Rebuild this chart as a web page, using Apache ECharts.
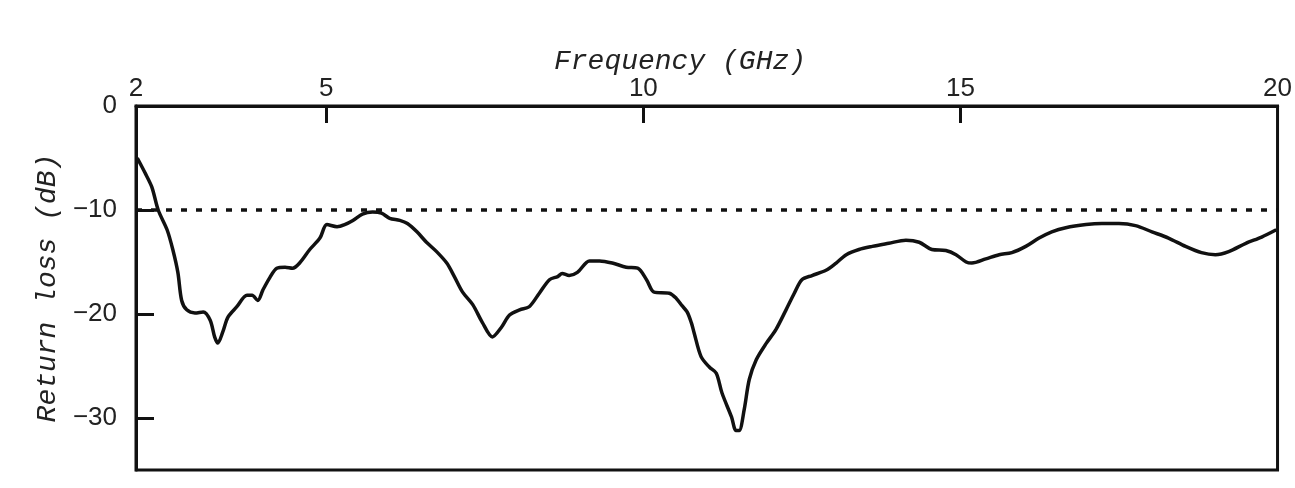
<!DOCTYPE html>
<html>
<head>
<meta charset="utf-8">
<script src="https://cdn.jsdelivr.net/npm/echarts@6/dist/echarts.min.js"></script>
<style>
html,body{margin:0;padding:0;background:#fff;}
#chart{width:1295px;height:488px;}
</style>
</head>
<body>
<div id="chart"></div>
<script>
var freq = [2.02,2.14,2.25,2.35,2.49,2.58,2.66,2.72,2.80,2.93,3.06,3.17,3.24,3.29,3.37,3.45,3.59,3.75,3.83,3.92,4.00,4.11,4.22,4.35,4.47,4.58,4.74,4.90,5.01,5.17,5.29,5.42,5.57,5.73,5.87,6.00,6.16,6.28,6.43,6.58,6.74,6.90,7.02,7.15,7.31,7.46,7.62,7.76,7.89,8.05,8.20,8.36,8.52,8.65,8.72,8.83,8.96,9.15,9.31,9.51,9.73,9.91,10.05,10.17,10.41,10.52,10.61,10.69,10.76,10.80,10.91,11.04,11.15,11.24,11.39,11.46,11.51,11.59,11.67,11.78,11.94,12.09,12.25,12.38,12.50,12.66,12.88,13.04,13.20,13.40,13.61,13.87,14.14,14.35,14.55,14.77,14.93,15.09,15.18,15.40,15.61,15.81,16.03,16.24,16.44,16.66,16.98,17.23,17.50,17.76,18.02,18.28,18.55,18.80,19.02,19.23,19.50,19.75,19.98];
var returnLoss = [-5.0,-6.4,-7.8,-10.0,-11.9,-13.8,-16.0,-18.7,-19.6,-19.9,-19.8,-20.6,-22.2,-22.8,-21.7,-20.3,-19.3,-18.2,-18.2,-18.7,-17.7,-16.5,-15.6,-15.5,-15.6,-15.1,-13.8,-12.7,-11.4,-11.6,-11.4,-11.0,-10.4,-10.2,-10.3,-10.8,-11.0,-11.3,-12.1,-13.1,-14.0,-15.1,-16.4,-17.9,-19.1,-20.8,-22.2,-21.3,-20.1,-19.6,-19.3,-18.0,-16.7,-16.4,-16.1,-16.3,-16.0,-14.9,-14.9,-15.1,-15.5,-15.6,-16.7,-17.9,-18.0,-18.5,-19.2,-19.8,-20.9,-21.8,-24.1,-25.1,-25.7,-27.6,-29.9,-31.2,-31.2,-29.2,-26.3,-24.4,-22.8,-21.5,-19.6,-18.0,-16.7,-16.3,-15.8,-15.1,-14.3,-13.8,-13.5,-13.2,-12.9,-13.1,-13.8,-13.9,-14.3,-15.0,-15.1,-14.7,-14.3,-14.1,-13.5,-12.7,-12.1,-11.7,-11.4,-11.3,-11.3,-11.5,-12.1,-12.7,-13.5,-14.1,-14.3,-14.0,-13.2,-12.6,-11.9];
var thresholdFreq = [2, 20];
var thresholdLevel = [-10, -10];
var xTickLabels = [2, 5, 10, 15, 20];
var xTickMarks = [5, 10, 15];
var yTickLabels = [0, -10, -20, -30];
var yTickMarks = [-10, -20, -30];

var curve = freq.map(function(f, i){ return [f, returnLoss[i]]; });
var thresh = thresholdFreq.map(function(f, i){ return [f, thresholdLevel[i]]; });

var chart = echarts.init(document.getElementById('chart'), null, {renderer: 'canvas'});
chart.setOption({
  backgroundColor: '#ffffff',
  animation: false,
  title: {
    text: 'Frequency (GHz)',
    left: 549, top: 43,
    textStyle: {fontFamily: 'Liberation Mono', fontStyle: 'italic', fontWeight: 'normal', fontSize: 28, color: '#222'}
  },
  grid: {
    left: 136, right: 17, top: 106, bottom: 18,
    show: true, borderColor: '#111', borderWidth: 3, backgroundColor: 'transparent'
  },
  xAxis: {
    type: 'value', position: 'top', min: 2, max: 20,
    axisLine: {show: true, lineStyle: {color: '#111', width: 3}},
    axisTick: {show: true, inside: true, length: 17, customValues: xTickMarks, lineStyle: {color: '#111', width: 3}},
    axisLabel: {show: true, customValues: xTickLabels, margin: 4, fontFamily: 'Liberation Sans', fontSize: 26, color: '#222'},
    splitLine: {show: false}
  },
  yAxis: {
    type: 'value', min: -35, max: 0,
    name: 'Return loss (dB)', nameLocation: 'middle', nameGap: 74, nameRotate: 90,
    nameTextStyle: {fontFamily: 'Liberation Mono', fontStyle: 'italic', fontSize: 28, color: '#222'},
    axisLine: {show: true, lineStyle: {color: '#111', width: 3}},
    axisTick: {show: true, inside: true, length: 18, customValues: yTickMarks, lineStyle: {color: '#111', width: 3}},
    axisLabel: {show: true, customValues: yTickLabels, margin: 19, fontFamily: 'Liberation Sans', fontSize: 26, color: '#222',
      formatter: function(v){ return String(v).replace('-', '\u2212'); }},
    splitLine: {show: false}
  },
  series: [
    {
      type: 'line', data: thresh, showSymbol: false, silent: true,
      lineStyle: {color: '#111', width: 3.5, type: [6, 9]}
    },
    {
      type: 'line', data: curve, showSymbol: false, smooth: 0.3,
      lineStyle: {color: '#111', width: 3.5}
    }
  ]
});
</script>
</body>
</html>
